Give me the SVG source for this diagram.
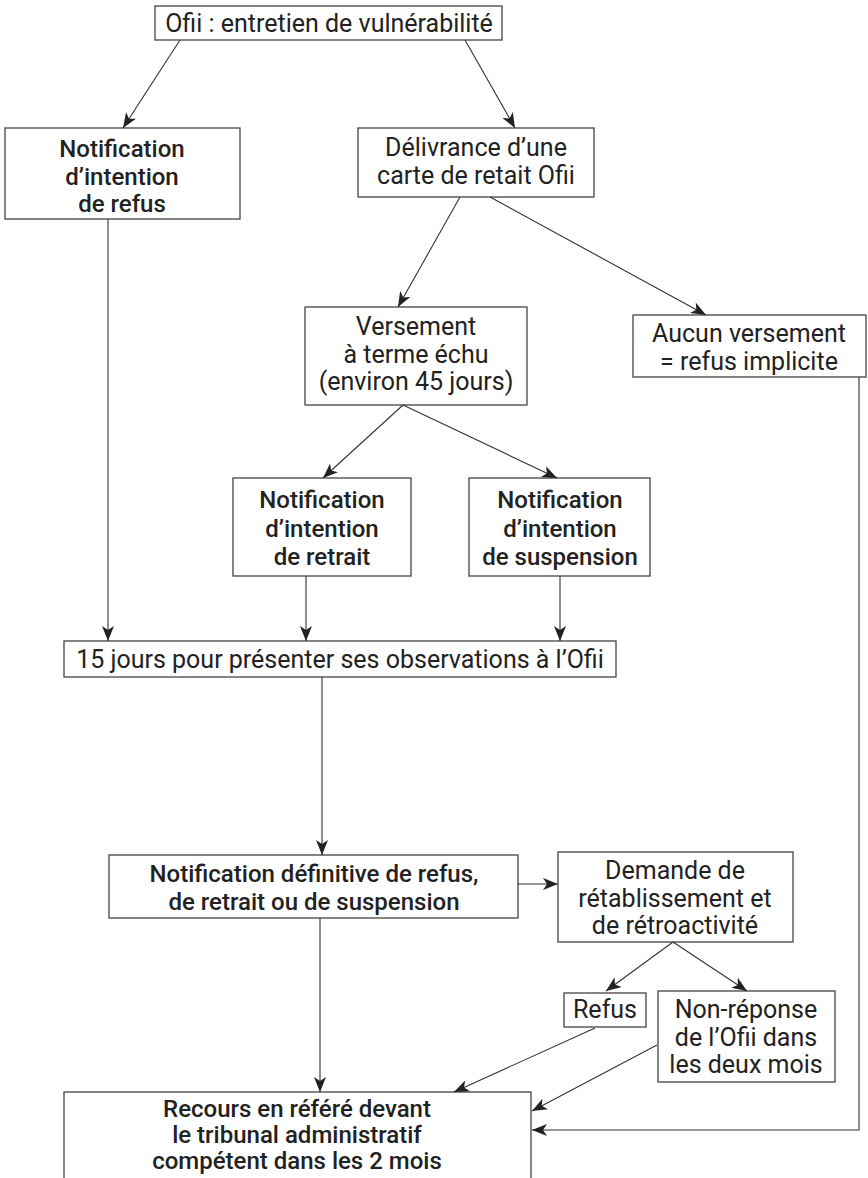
<svg xmlns="http://www.w3.org/2000/svg" width="868" height="1178" viewBox="0 0 868 1178">
<style>
.box{fill:#fff;stroke:#444;stroke-width:1.3}
.t{font-family:Roboto,"Liberation Sans",sans-serif;font-size:25px;fill:#222;text-anchor:middle}
.b{font-weight:500;font-size:24px}
.c{fill:none;stroke:#333;stroke-width:1.1}
</style>
<defs>
<marker id="ah" markerUnits="userSpaceOnUse" markerWidth="16" markerHeight="12" refX="15" refY="6" orient="auto">
<path d="M0,0 L15,6 L0,12 L4,6 z" fill="#222"/>
</marker>
</defs>
<rect width="868" height="1178" fill="#fff"/>
<g id="n-top"><rect class="box" x="155" y="6" width="347" height="34"/><text class="t" x="329" y="32">Ofii : entretien de vulnérabilité</text></g>
<g id="n-refus-int"><rect class="box" x="5" y="128" width="235" height="91"/><text class="t b" x="122" y="157">Notification</text><text class="t b" x="122" y="185">d’intention</text><text class="t b" x="122" y="212">de refus</text></g>
<g id="n-deliv"><rect class="box" x="358" y="128" width="236" height="69"/><text class="t" x="476" y="156">Délivrance d’une</text><text class="t" x="476" y="184">carte de retait Ofii</text></g>
<g id="n-versement"><rect class="box" x="305" y="307" width="222" height="98"/><text class="t" x="416" y="335">Versement</text><text class="t" x="416" y="363">à terme échu</text><text class="t" x="416" y="390">(environ 45 jours)</text></g>
<g id="n-aucun"><rect class="box" x="633" y="315" width="233" height="62"/><text class="t" x="749" y="342">Aucun versement</text><text class="t" x="749" y="370">= refus implicite</text></g>
<g id="n-retrait"><rect class="box" x="233" y="478" width="178" height="98"/><text class="t b" x="322" y="508">Notification</text><text class="t b" x="322" y="537">d’intention</text><text class="t b" x="322" y="565">de retrait</text></g>
<g id="n-suspension"><rect class="box" x="469" y="478" width="181" height="98"/><text class="t b" x="560" y="508">Notification</text><text class="t b" x="560" y="537">d’intention</text><text class="t b" x="560" y="565">de suspension</text></g>
<g id="n-15j"><rect class="box" x="64" y="641" width="552" height="36"/><text class="t" x="340" y="668">15 jours pour présenter ses observations à l’Ofii</text></g>
<g id="n-def"><rect class="box" x="109" y="855" width="409" height="63"/><text class="t b" x="314" y="882">Notification définitive de refus,</text><text class="t b" x="314" y="910">de retrait ou de suspension</text></g>
<g id="n-demande"><rect class="box" x="558" y="852" width="235" height="90"/><text class="t" x="675" y="879">Demande de</text><text class="t" x="675" y="907">rétablissement et</text><text class="t" x="675" y="934">de rétroactivité</text></g>
<g id="n-refus"><rect class="box" x="564" y="993" width="82" height="34"/><text class="t" x="605" y="1018">Refus</text></g>
<g id="n-nonrep"><rect class="box" x="658" y="991" width="177" height="91"/><text class="t" x="746" y="1018">Non-réponse</text><text class="t" x="746" y="1046">de l’Ofii dans</text><text class="t" x="746" y="1073">les deux mois</text></g>
<g id="n-recours"><rect class="box" x="64" y="1092" width="467" height="110"/><text class="t b" x="297" y="1117">Recours en référé devant</text><text class="t b" x="297" y="1143">le tribunal administratif</text><text class="t b" x="297" y="1169">compétent dans les 2 mois</text></g>
<g id="connectors">
<line class="c" x1="180" y1="40" x2="123" y2="128" marker-end="url(#ah)"/>
<line class="c" x1="465" y1="40" x2="515" y2="128" marker-end="url(#ah)"/>
<line class="c" x1="108" y1="219" x2="108" y2="641" marker-end="url(#ah)"/>
<line class="c" x1="460" y1="197" x2="398" y2="307" marker-end="url(#ah)"/>
<line class="c" x1="490" y1="197" x2="706" y2="315" marker-end="url(#ah)"/>
<line class="c" x1="403" y1="405" x2="323" y2="478" marker-end="url(#ah)"/>
<line class="c" x1="403" y1="405" x2="557" y2="478" marker-end="url(#ah)"/>
<line class="c" x1="306" y1="576" x2="306" y2="641" marker-end="url(#ah)"/>
<line class="c" x1="560" y1="576" x2="560" y2="641" marker-end="url(#ah)"/>
<line class="c" x1="322" y1="677" x2="322" y2="855" marker-end="url(#ah)"/>
<line class="c" x1="518" y1="884" x2="558" y2="884" marker-end="url(#ah)"/>
<line class="c" x1="320" y1="918" x2="320" y2="1092" marker-end="url(#ah)"/>
<line class="c" x1="673" y1="942" x2="606" y2="991" marker-end="url(#ah)"/>
<line class="c" x1="673" y1="942" x2="747" y2="991" marker-end="url(#ah)"/>
<line class="c" x1="595" y1="1028" x2="454" y2="1092" marker-end="url(#ah)"/>
<line class="c" x1="657" y1="1045" x2="532" y2="1111" marker-end="url(#ah)"/>
<polyline class="c" points="859,377 859,1130 532,1130" marker-end="url(#ah)"/>
</g>
</svg>
